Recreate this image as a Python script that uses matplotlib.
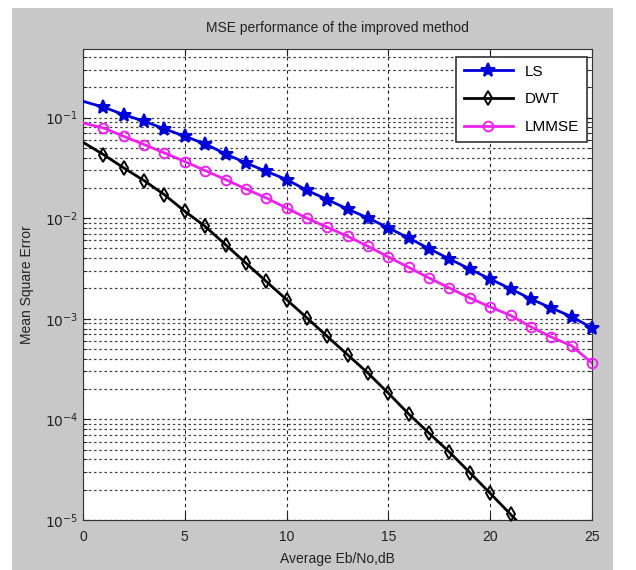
import numpy as np
import matplotlib
matplotlib.use('Agg')
import matplotlib.pyplot as plt
from matplotlib.patches import Rectangle
from matplotlib.lines import Line2D
from matplotlib.ticker import LogLocator, FixedLocator, FuncFormatter, NullFormatter

plt.rcParams['font.family'] = ['Liberation Sans', 'DejaVu Sans']

snr = np.arange(0, 26)
mse_ls = [0.145, 0.127, 0.107, 0.0918, 0.0772, 0.0651, 0.0547, 0.0435, 0.0354,
          0.0292, 0.0242, 0.0189, 0.0153, 0.0123, 0.01005, 0.0080, 0.00635,
          0.00497, 0.00393, 0.00312, 0.00248, 0.00199, 0.00157, 0.00128,
          0.00105, 0.00081]
mse_lmmse = [0.088, 0.0789, 0.0651, 0.0539, 0.0445, 0.0365, 0.0297, 0.0242,
             0.0195, 0.0159, 0.0126, 0.0100, 0.00811, 0.00659, 0.00525,
             0.00411, 0.00324, 0.00254, 0.00202, 0.00161, 0.00131, 0.00108,
             0.00083, 0.000658, 0.000539, 0.000363]
snr_dwt = np.arange(0, 23)
mse_dwt = [0.0567, 0.0429, 0.0316, 0.0236, 0.0171, 0.0117, 0.00828, 0.00545,
           0.00358, 0.00235, 0.00155, 0.00102, 0.000667, 0.000438, 0.000288,
           0.000182, 0.000113, 7.29e-5, 4.72e-5, 2.96e-5, 1.84e-5, 1.14e-5,
           7.0e-6]

fig = plt.figure(figsize=(6.36, 5.70), dpi=100)
fig.patch.set_facecolor('white')
fig.patches.append(Rectangle((12 / 636, 0), 601 / 636, 1 - 8 / 570,
                             transform=fig.transFigure, facecolor='#c8c8c8',
                             edgecolor='none', zorder=-10))

ax = fig.add_axes([83 / 636, 1 - 520 / 570, 509 / 636, 471 / 570])
ax.set_yscale('log')

series = [
    (snr, mse_ls, '#0000d8', '*', 10, 'LS', 25),
    (snr_dwt, mse_dwt, 'black', 'd', 7, 'DWT', 21),
    (snr, mse_lmmse, '#ee22ee', 'o', 7, 'LMMSE', 25),
]
handles = []
for xs, ys, col, mk, ms, lab, last in series:
    ax.plot(xs, ys, '-', color=col, lw=2, zorder=3)
    face = col if mk == '*' else 'none'
    ax.plot(xs[1:last + 1], ys[1:last + 1], ls='none', marker=mk, ms=ms,
            mfc=face, mec=col, mew=1.4, clip_on=False, zorder=4)
    handles.append(Line2D([], [], color=col, lw=2, marker=mk, ms=ms,
                          mfc=face, mec=col, mew=1.4, label=lab))

ax.set_xlim(0, 25)
ax.set_ylim(1e-5, 0.48)
ax.xaxis.set_major_locator(FixedLocator([0, 5, 10, 15, 20, 25]))
ax.yaxis.set_major_locator(LogLocator(base=10, numticks=10))
ax.yaxis.set_minor_locator(LogLocator(base=10, subs=np.arange(2, 10), numticks=20))
ax.yaxis.set_major_formatter(FuncFormatter(lambda v, p: r'$10^{%d}$' % round(np.log10(v))))
ax.yaxis.set_minor_formatter(NullFormatter())
ax.tick_params(which='both', direction='in', top=True, right=True,
               labelsize=10, colors='#222222')
ax.tick_params(axis='x', pad=7)
ax.tick_params(which='major', length=5)
ax.tick_params(which='minor', length=3)

ax.grid(True, axis='x', which='major', color='#222222', ls=(0, (3, 3)), lw=0.8)
ax.grid(True, axis='y', which='both', color='#444444', ls=(0, (2, 2.2)), lw=0.9)
for s in ax.spines.values():
    s.set_color('#333333')

ax.set_title('MSE performance of the improved method', fontsize=10, pad=12,
             color='#222222')
ax.set_xlabel('Average Eb/No,dB', fontsize=10, labelpad=6, color='#222222')
ax.set_ylabel('Mean Square Error', fontsize=10, labelpad=8, color='#222222')

leg = ax.legend(handles=handles, loc='upper right',
                bbox_to_anchor=(0.99, 0.983), borderaxespad=0, fontsize=11,
                handlelength=3.2, fancybox=False, framealpha=1,
                edgecolor='#333333', borderpad=0.5, labelspacing=0.9)
leg.get_frame().set_linewidth(1.2)

fig.savefig('out.png', dpi=100)
